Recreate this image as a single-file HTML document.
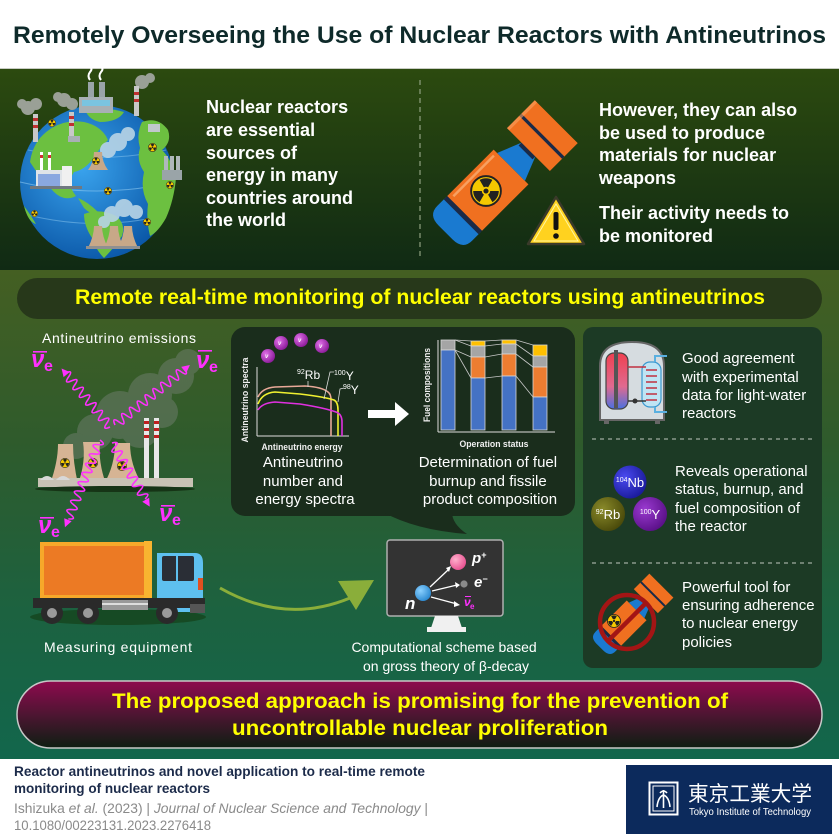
<!DOCTYPE html>
<html><head><meta charset="utf-8">
<style>
html,body{margin:0;padding:0;background:#fff;}
svg{display:block;}
text{font-family:"Liberation Sans",Arial,sans-serif;}
</style></head><body>
<svg width="839" height="839" viewBox="0 0 839 839" xmlns="http://www.w3.org/2000/svg">
<defs>
 <linearGradient id="gTop" x1="0" y1="0" x2="0" y2="1">
  <stop offset="0" stop-color="#2c4a0f"/><stop offset="1" stop-color="#102a14"/>
 </linearGradient>
 <linearGradient id="gMid" x1="0" y1="0" x2="0" y2="1">
  <stop offset="0" stop-color="#445f22"/><stop offset="0.35" stop-color="#2f5b2c"/><stop offset="0.7" stop-color="#1c6240"/><stop offset="1" stop-color="#12664c"/>
 </linearGradient>
 <linearGradient id="gBan" x1="0" y1="0" x2="0" y2="1">
  <stop offset="0" stop-color="#8e0a4e"/><stop offset="0.5" stop-color="#4e1532"/><stop offset="1" stop-color="#0d1e12"/>
 </linearGradient>
 <radialGradient id="gGlobe" cx="0.4" cy="0.4" r="0.65">
  <stop offset="0" stop-color="#3aa4ee"/><stop offset="1" stop-color="#0a56a6"/>
 </radialGradient>
 <radialGradient id="gPur" cx="0.35" cy="0.35" r="0.7">
  <stop offset="0" stop-color="#e070e8"/><stop offset="1" stop-color="#8a1a98"/>
 </radialGradient>
 <radialGradient id="gNb" cx="0.35" cy="0.35" r="0.7">
  <stop offset="0" stop-color="#4a4af0"/><stop offset="1" stop-color="#1a1a9a"/>
 </radialGradient>
 <radialGradient id="gRb" cx="0.35" cy="0.35" r="0.7">
  <stop offset="0" stop-color="#8a8a2a"/><stop offset="1" stop-color="#4a4a0a"/>
 </radialGradient>
 <radialGradient id="gY" cx="0.35" cy="0.35" r="0.7">
  <stop offset="0" stop-color="#9a3ad0"/><stop offset="1" stop-color="#5a1088"/>
 </radialGradient>
 <radialGradient id="gPink" cx="0.35" cy="0.35" r="0.7">
  <stop offset="0" stop-color="#ffb0cc"/><stop offset="1" stop-color="#e85090"/>
 </radialGradient>
 <radialGradient id="gBlue" cx="0.35" cy="0.35" r="0.7">
  <stop offset="0" stop-color="#8ad0ff"/><stop offset="1" stop-color="#2a88d0"/>
 </radialGradient>
 <linearGradient id="gVes" x1="0" y1="0" x2="0" y2="1">
  <stop offset="0" stop-color="#f04050"/><stop offset="0.6" stop-color="#e06a90"/><stop offset="1" stop-color="#4a70e0"/>
 </linearGradient>
 <symbol id="rad" viewBox="-10 -10 20 20">
  <circle r="9.3" fill="#f5c800" stroke="#222" stroke-width="1.2"/>
  <path d="M-1.3,-2.25 L-4,-6.93 A8,8 0 0 1 4,-6.93 L1.3,-2.25 A2.6,2.6 0 0 0 -1.3,-2.25Z M2.6,0 L8,0 A8,8 0 0 1 4,6.93 L1.3,2.25 A2.6,2.6 0 0 0 2.6,0Z M-1.3,2.25 L-4,6.93 A8,8 0 0 1 -8,0 L-2.6,0 A2.6,2.6 0 0 0 -1.3,2.25Z" fill="#222"/>
  <circle r="1.6" fill="#222"/>
 </symbol>
</defs>

<!-- Title -->
<rect x="0" y="0" width="839" height="68" fill="#fff"/>
<text x="13" y="43" font-size="24" font-weight="bold" fill="#0e2a2a" textLength="813" lengthAdjust="spacingAndGlyphs">Remotely Overseeing the Use of Nuclear Reactors with Antineutrinos</text>
<rect x="0" y="68" width="839" height="1" fill="#c8ccc4"/>

<!-- Top panel -->
<rect x="0" y="69" width="839" height="201" fill="url(#gTop)"/>
<line x1="420" y1="80" x2="420" y2="258" stroke="#8fa080" stroke-width="1.2" stroke-dasharray="5,4"/>

<!-- Globe -->
<g>
 <circle cx="97" cy="182" r="77" fill="url(#gGlobe)"/>
 <path d="M20,182 Q97,200 174,182" stroke="#8cc8f0" stroke-width="1" fill="none" opacity="0.6"/>
 <path d="M28,150 Q97,165 166,150" stroke="#8cc8f0" stroke-width="1" fill="none" opacity="0.5"/>
 <path d="M28,215 Q97,232 166,215" stroke="#8cc8f0" stroke-width="1" fill="none" opacity="0.5"/>
 <path d="M40,138 Q58,118 84,122 Q102,126 108,140 Q98,150 92,160 Q84,170 74,172 Q66,184 76,196 Q64,202 54,192 Q40,178 30,162 Q32,148 40,138Z" fill="#6cc040"/>
 <path d="M78,198 Q88,202 98,212 Q92,216 84,208 Z" fill="#6cc040"/>
 <path d="M86,112 Q104,106 124,112 Q118,122 100,122 Q90,120 86,112Z" fill="#6cc040"/>
 <path d="M84,214 Q100,208 116,216 Q126,224 122,236 Q114,248 104,258 Q96,250 92,238 Q84,226 84,214Z" fill="#6cc040"/>
 <path d="M142,122 Q158,116 168,130 Q172,142 162,150 Q172,160 176,178 Q174,200 166,218 Q158,232 150,236 Q146,220 148,204 Q140,190 144,172 Q136,160 140,148 Q136,134 142,122Z" fill="#6cc040"/>
 <path d="M24,206 Q30,214 36,224 Q28,222 24,206Z" fill="#6cc040"/>
 <g fill="#b8d4e6" opacity="0.9">
  <circle cx="108" cy="150" r="8"/><circle cx="118" cy="142" r="9"/><circle cx="128" cy="134" r="7"/>
  <circle cx="112" cy="214" r="8"/><circle cx="124" cy="208" r="9"/><circle cx="136" cy="212" r="7"/><circle cx="104" cy="222" r="6"/>
 </g>
 <rect x="88" y="82" width="6" height="16" fill="#9aa4a8"/><rect x="99" y="82" width="6" height="16" fill="#9aa4a8"/>
 <path d="M90,80 q-3,-4 0,-8 q3,-3 0,-6" stroke="#fff" stroke-width="2" fill="none"/>
 <path d="M101,80 q-3,-4 0,-8 q3,-3 0,-6" stroke="#fff" stroke-width="2" fill="none"/>
 <rect x="79" y="97" width="34" height="16" fill="#a8b0b4"/>
 <rect x="82" y="100" width="28" height="6" fill="#7ac4e0"/>
 <g fill="#9aa096"><circle cx="28" cy="108" r="7"/><circle cx="36" cy="104" r="6"/><circle cx="22" cy="104" r="5"/>
  <circle cx="64" cy="100" r="7"/><circle cx="72" cy="104" r="6"/><circle cx="58" cy="97" r="5"/>
  <circle cx="142" cy="82" r="7"/><circle cx="150" cy="78" r="5"/></g>
 <rect x="33" y="114" width="5" height="28" fill="#c8c8c8"/><rect x="33" y="118" width="5" height="3" fill="#c03030"/><rect x="33" y="125" width="5" height="3" fill="#c03030"/>
 <rect x="69" y="112" width="5" height="30" fill="#c8c8c8"/><rect x="69" y="116" width="5" height="3" fill="#c03030"/><rect x="69" y="123" width="5" height="3" fill="#c03030"/>
 <rect x="134" y="86" width="5" height="30" fill="#c8c8c8"/><rect x="134" y="92" width="5" height="3" fill="#c03030"/><rect x="134" y="99" width="5" height="3" fill="#c03030"/>
 <rect x="68" y="136" width="12" height="6" fill="#a8b0b4"/>
 <rect x="40" y="152" width="3" height="18" fill="#fff"/><rect x="40" y="155" width="3" height="3" fill="#d03030"/><rect x="48" y="152" width="3" height="18" fill="#fff"/><rect x="48" y="155" width="3" height="3" fill="#d03030"/>
 <rect x="36" y="170" width="30" height="18" fill="#e0e4e8"/><rect x="38" y="174" width="22" height="12" fill="#8aa8e0"/>
 <rect x="62" y="166" width="10" height="22" fill="#f0f0f0"/>
 <rect x="30" y="186" width="52" height="3" fill="#707880"/>
 <rect x="164" y="156" width="4" height="14" fill="#b0b8bc"/><rect x="170" y="156" width="4" height="14" fill="#b0b8bc"/><rect x="176" y="156" width="4" height="14" fill="#b0b8bc"/>
 <rect x="162" y="170" width="20" height="10" fill="#9aa4a8"/>
 <rect x="148" y="124" width="12" height="8" fill="#c0c8cc"/>
 <path d="M88,170 Q94,162 94,152 L102,152 Q102,162 108,170Z" fill="#c8a888"/>
 <path d="M88,248 Q94,236 94,226 L102,226 Q102,236 108,248Z" fill="#c8a888"/>
 <path d="M104,248 Q110,236 110,226 L118,226 Q118,236 124,248Z" fill="#c8a888"/>
 <path d="M118,248 Q124,236 124,226 L132,226 Q132,236 138,248Z" fill="#c8a888"/>
 <rect x="86" y="246" width="54" height="3" fill="#909090"/>
 <use href="#rad" x="48" y="119" width="8" height="8"/>
 <use href="#rad" x="148" y="143" width="9" height="9"/>
 <use href="#rad" x="166" y="181" width="8" height="8"/>
 <use href="#rad" x="104" y="187" width="8" height="8"/>
 <use href="#rad" x="143" y="218" width="8" height="8"/>
 <use href="#rad" x="31" y="210" width="7" height="7"/>
 <use href="#rad" x="92" y="157" width="8" height="8"/>
</g>

<text font-size="18" font-weight="bold" fill="#fff">
 <tspan x="206" y="113">Nuclear reactors</tspan>
 <tspan x="206" y="136">are essential</tspan>
 <tspan x="206" y="159">sources of</tspan>
 <tspan x="206" y="181">energy in many</tspan>
 <tspan x="206" y="204">countries around</tspan>
 <tspan x="206" y="226">the world</tspan>
</text>

<!-- Bomb -->
<g transform="translate(449,229) rotate(-45) scale(0.82)">
 <path d="M25,-30 L10,-30 Q-6,-30 -6,-12 L-6,12 Q-6,30 10,30 L25,30 Z" fill="#1a7ad0"/>
 <rect x="21" y="-30" width="6" height="60" fill="#1a2a48"/>
 <rect x="27" y="-30" width="80" height="60" fill="#f07020"/>
 <rect x="32" y="-26" width="70" height="3" fill="#f8a060"/>
 <path d="M107,-24 L137,-12 L137,12 L107,24 Z" fill="#1a7ad0"/>
 <rect x="132" y="-12" width="5" height="24" fill="#1a2a48"/>
 <rect x="137" y="-37" width="48" height="74" fill="#f07020"/>
 <rect x="158" y="-37" width="4" height="74" fill="#1a2a48"/>
 <rect x="137" y="-37" width="48" height="4" fill="#f8a060" opacity="0.6"/>
</g>
<use href="#rad" x="470" y="175" width="32" height="32"/>
<!-- Warning -->
<path d="M556,197 L584,244 L528,244 Z" fill="#ffd21f" stroke="#3a3a2a" stroke-width="2.5" stroke-linejoin="round"/>
<path d="M556,204 L578,241 L534,241 Z" fill="none" stroke="#fff6a0" stroke-width="1"/>
<rect x="553.5" y="212" width="5" height="18" rx="2" fill="#111"/>
<circle cx="556" cy="236" r="2.8" fill="#111"/>

<text font-size="18" font-weight="bold" fill="#fff">
 <tspan x="599" y="116">However, they can also</tspan>
 <tspan x="599" y="139">be used to produce</tspan>
 <tspan x="599" y="161">materials for nuclear</tspan>
 <tspan x="599" y="184">weapons</tspan>
 <tspan x="599" y="219">Their activity needs to</tspan>
 <tspan x="599" y="242">be monitored</tspan>
</text>

<!-- Middle section -->
<rect x="0" y="270" width="839" height="489" fill="url(#gMid)"/>
<rect x="17" y="278" width="805" height="41" rx="20.5" fill="#26361a" opacity="0.95"/>
<text x="420" y="304" text-anchor="middle" font-size="21" font-weight="bold" fill="#ffff00" textLength="690" lengthAdjust="spacingAndGlyphs">Remote real-time monitoring of nuclear reactors using antineutrinos</text>

<!-- Left: emissions -->
<text x="42" y="343" font-size="14" fill="#fff" textLength="154">Antineutrino emissions</text>
<g fill="#6c7c6a" opacity="0.55">
 <circle cx="120" cy="415" r="24"/><circle cx="150" cy="395" r="22"/><circle cx="176" cy="376" r="18"/>
 <circle cx="95" cy="432" r="18"/><circle cx="140" cy="428" r="20"/><circle cx="188" cy="362" r="13"/>
 <circle cx="76" cy="446" r="13"/><circle cx="162" cy="412" r="16"/>
</g>
<path d="M50,484 Q58,462 58,444 L73,444 Q73,462 78,484Z" fill="#d6b494"/>
<path d="M78,484 Q86,462 83,442 L100,442 Q98,462 106,484Z" fill="#d6b494"/>
<path d="M104,484 Q115,465 115,443 L130,443 Q130,465 142,484Z" fill="#d6b494"/>
<rect x="144" y="418" width="5" height="62" fill="#e8e8e8"/>
<rect x="144" y="421" width="5" height="3" fill="#c02020"/><rect x="144" y="428" width="5" height="3" fill="#c02020"/><rect x="144" y="435" width="5" height="3" fill="#c02020"/>
<rect x="154" y="418" width="5" height="62" fill="#e8e8e8"/>
<rect x="154" y="421" width="5" height="3" fill="#c02020"/><rect x="154" y="428" width="5" height="3" fill="#c02020"/><rect x="154" y="435" width="5" height="3" fill="#c02020"/>
<rect x="38" y="478" width="155" height="9" fill="#c8c2b4"/>
<path d="M40,480 q7,-8 14,0 M56,480 q7,-8 14,0" fill="#d8d8d8"/>
<ellipse cx="115" cy="489" rx="80" ry="3" fill="#163416"/>
<use href="#rad" x="60" y="458" width="10" height="10"/>
<use href="#rad" x="88" y="458" width="10" height="10"/>
<use href="#rad" x="117" y="461" width="10" height="10"/>

<g stroke="#ff30ff" stroke-width="1.6" fill="none">
 <g transform="translate(110,427) rotate(-129.6)">
  <path d="M0,0 q2.5,-9 5,0 t5,0 t5,0 t5,0 t5,0 t5,0 t5,0 t5,0 t5,0 t5,0 t5,0 t5,0 t5,0 t5,0"/>
  <polygon points="68,-4 76,0 68,4" fill="#ff30ff" stroke="none"/>
 </g>
 <g transform="translate(115,425) rotate(-38.7)">
  <path d="M0,0 q2.5,-9 5,0 t5,0 t5,0 t5,0 t5,0 t5,0 t5,0 t5,0 t5,0 t5,0 t5,0 t5,0 t5,0 t5,0 t5,0 t5,0 t5,0 t5,0"/>
  <polygon points="88,-4 96,0 88,4" fill="#ff30ff" stroke="none"/>
 </g>
 <g transform="translate(100,440) rotate(111.9)">
  <path d="M0,0 q2.5,-9 5,0 t5,0 t5,0 t5,0 t5,0 t5,0 t5,0 t5,0 t5,0 t5,0 t5,0 t5,0 t5,0 t5,0 t5,0 t5,0 t5,0"/>
  <polygon points="86,-4 94,0 86,4" fill="#ff30ff" stroke="none"/>
 </g>
 <g transform="translate(112,443) rotate(59.3)">
  <path d="M0,0 q2.5,-9 5,0 t5,0 t5,0 t5,0 t5,0 t5,0 t5,0 t5,0 t5,0 t5,0 t5,0 t5,0 t5,0"/>
  <polygon points="66,-4 74,0 66,4" fill="#ff30ff" stroke="none"/>
 </g>
</g>
<g fill="#ff30ff">
 <text x="31" y="367" font-family="Liberation Serif" font-style="italic" font-weight="bold" font-size="24">ν</text>
 <rect x="33" y="351" width="14" height="1.6"/>
 <text x="44" y="371" font-weight="bold" font-size="16">e</text>
 <text x="196" y="368" font-family="Liberation Serif" font-style="italic" font-weight="bold" font-size="24">ν</text>
 <rect x="198" y="350" width="14" height="1.6"/>
 <text x="209" y="372" font-weight="bold" font-size="16">e</text>
 <text x="38" y="533" font-family="Liberation Serif" font-style="italic" font-weight="bold" font-size="24">ν</text>
 <rect x="40" y="517" width="14" height="1.6"/>
 <text x="51" y="537" font-weight="bold" font-size="16">e</text>
 <text x="159" y="521" font-family="Liberation Serif" font-style="italic" font-weight="bold" font-size="24">ν</text>
 <rect x="161" y="505" width="14" height="1.6"/>
 <text x="172" y="525" font-weight="bold" font-size="16">e</text>
</g>

<!-- Truck -->
<ellipse cx="118" cy="617" rx="88" ry="8" fill="#164a24"/>
<rect x="40" y="542" width="112" height="57" fill="#f6a82a"/>
<rect x="44" y="546" width="100" height="49" fill="#ec7a24"/>
<rect x="144" y="541" width="8" height="58" fill="#f8b430"/>
<path d="M157,553 L195,553 Q203,553 203,563 L203,612 L157,612 Z" fill="#5ec0ef"/>
<rect x="162" y="556" width="32" height="25" rx="2" fill="#2a2e36"/>
<rect x="176" y="556" width="2" height="25" fill="#5ec0ef"/>
<rect x="198" y="578" width="5" height="12" fill="#e05020"/>
<rect x="33" y="598" width="172" height="10" fill="#2a2a2a"/>
<rect x="102" y="600" width="46" height="10" fill="#999"/>
<rect x="102" y="603" width="46" height="2" fill="#ddd"/>
<rect x="190" y="604" width="15" height="9" fill="#555"/>
<g fill="#2a2a2a"><circle cx="52" cy="613" r="11"/><circle cx="88" cy="613" r="11"/><circle cx="167" cy="613" r="11"/></g>
<g fill="#9a9a9a"><circle cx="52" cy="613" r="5"/><circle cx="88" cy="613" r="5"/><circle cx="167" cy="613" r="5"/></g>
<text x="44" y="652" font-size="14" fill="#fff" textLength="148">Measuring equipment</text>

<!-- Center dark box -->
<rect x="231" y="327" width="344" height="189" rx="14" fill="#1a2d1c"/>
<path d="M383,512 Q415,530 467,534 Q452,524 452,512 Z" fill="#1a2d1c"/>

<g>
 <circle cx="268" cy="356" r="7" fill="url(#gPur)"/>
 <circle cx="281" cy="343" r="7" fill="url(#gPur)"/>
 <circle cx="301" cy="340" r="7" fill="url(#gPur)"/>
 <circle cx="322" cy="346" r="7" fill="url(#gPur)"/>
 <g fill="#fff" font-size="6" font-family="Liberation Serif" font-style="italic" font-weight="bold">
  <text x="265" y="358">ν</text><text x="278" y="345">ν</text><text x="298" y="342">ν</text><text x="319" y="348">ν</text>
 </g>
 <line x1="257" y1="367" x2="257" y2="436" stroke="#ddd" stroke-width="1"/>
 <line x1="257" y1="436" x2="349" y2="436" stroke="#ddd" stroke-width="1"/>
 <path d="M258,397 Q262,388 275,387 L305,386 Q322,387 328,392 Q331,394 331,400 L331,436" stroke="#e8a898" stroke-width="1.6" fill="none"/>
 <path d="M258,404 Q262,393 275,392 L300,394 Q325,397 334,400 Q338,402 338,410 L338,436" stroke="#f0f030" stroke-width="1.6" fill="none"/>
 <path d="M258,410 Q262,403 275,402 L300,404 Q325,408 336,412 Q342,414 342,422 L342,436" stroke="#e030e0" stroke-width="1.6" fill="none"/>
 <g stroke="#ddd" stroke-width="0.8" fill="none">
  <line x1="308" y1="381" x2="308" y2="387"/>
  <polyline points="334,372 330,372 324,399"/>
  <polyline points="344,388 340,389 338,402"/>
 </g>
 <text x="297" y="379" font-size="12" fill="#fff"><tspan font-size="7" dy="-5">92</tspan><tspan dy="5">Rb</tspan></text>
 <text x="334" y="380" font-size="12" fill="#fff"><tspan font-size="7" dy="-5">100</tspan><tspan dy="5">Y</tspan></text>
 <text x="343" y="394" font-size="12" fill="#fff"><tspan font-size="7" dy="-5">98</tspan><tspan dy="5">Y</tspan></text>
 <text x="248" y="400" transform="rotate(-90 248 400)" text-anchor="middle" font-size="9" font-weight="bold" fill="#f0f0f0" textLength="85" lengthAdjust="spacingAndGlyphs">Antineutrino spectra</text>
 <text x="302" y="450" text-anchor="middle" font-size="9" font-weight="bold" fill="#f0f0f0" textLength="81" lengthAdjust="spacingAndGlyphs">Antineutrino energy</text>
</g>
<text font-size="15" fill="#fff" text-anchor="middle">
 <tspan x="305" y="467">Antineutrino</tspan>
 <tspan x="305" y="486">number and</tspan>
 <tspan x="305" y="504">energy spectra</tspan>
</text>

<rect x="368" y="410" width="28" height="8" fill="#fff"/>
<polygon points="395,402 409,414 395,426" fill="#fff"/>

<g>
 <line x1="438" y1="340" x2="438" y2="432" stroke="#ddd" stroke-width="1"/>
 <line x1="438" y1="432" x2="555" y2="432" stroke="#ddd" stroke-width="1"/>
 <g stroke="#d8d8d8" stroke-width="0.8">
  <rect x="441" y="340" width="14" height="10" fill="#a5a5a5"/>
  <rect x="441" y="350" width="14" height="80" fill="#4472c4"/>
  <rect x="471" y="341" width="14" height="5" fill="#ffc000"/>
  <rect x="471" y="346" width="14" height="11" fill="#a5a5a5"/>
  <rect x="471" y="357" width="14" height="21" fill="#ed7d31"/>
  <rect x="471" y="378" width="14" height="52" fill="#4472c4"/>
  <rect x="502" y="340" width="14" height="4" fill="#ffc000"/>
  <rect x="502" y="344" width="14" height="10" fill="#a5a5a5"/>
  <rect x="502" y="354" width="14" height="22" fill="#ed7d31"/>
  <rect x="502" y="376" width="14" height="54" fill="#4472c4"/>
  <rect x="533" y="345" width="14" height="11" fill="#ffc000"/>
  <rect x="533" y="356" width="14" height="11" fill="#a5a5a5"/>
  <rect x="533" y="367" width="14" height="30" fill="#ed7d31"/>
  <rect x="533" y="397" width="14" height="33" fill="#4472c4"/>
 </g>
 <g stroke="#c8c8c8" stroke-width="0.8">
  <line x1="455" y1="340" x2="471" y2="341"/><line x1="455" y1="340" x2="471" y2="346"/>
  <line x1="455" y1="350" x2="471" y2="357"/><line x1="455" y1="350" x2="471" y2="378"/>
  <line x1="485" y1="341" x2="502" y2="340"/><line x1="485" y1="346" x2="502" y2="344"/>
  <line x1="485" y1="357" x2="502" y2="354"/><line x1="485" y1="378" x2="502" y2="376"/>
  <line x1="516" y1="340" x2="533" y2="345"/><line x1="516" y1="344" x2="533" y2="356"/>
  <line x1="516" y1="354" x2="533" y2="367"/><line x1="516" y1="376" x2="533" y2="397"/>
 </g>
 <text x="430" y="385" transform="rotate(-90 430 385)" text-anchor="middle" font-size="9" font-weight="bold" fill="#f0f0f0" textLength="74" lengthAdjust="spacingAndGlyphs">Fuel compositions</text>
 <text x="494" y="447" text-anchor="middle" font-size="9" font-weight="bold" fill="#f0f0f0" textLength="69" lengthAdjust="spacingAndGlyphs">Operation status</text>
</g>
<text font-size="15" fill="#fff" text-anchor="middle">
 <tspan x="490" y="467">Determination of fuel</tspan>
 <tspan x="490" y="486">burnup and fissile</tspan>
 <tspan x="490" y="504">product composition</tspan>
</text>

<path d="M220,588 Q285,625 350,598" stroke="#8aae3a" stroke-width="3" fill="none"/>
<polygon points="338,581 374,580 356,610" fill="#8aae3a"/>

<rect x="387" y="540" width="116" height="76" rx="3" fill="#333" stroke="#b0b0b0" stroke-width="1.5"/>
<polygon points="435,616 458,616 462,628 431,628" fill="#f0f0f0"/>
<rect x="427" y="627" width="39" height="5" fill="#f0f0f0"/>
<g stroke="#fff" stroke-width="1.3">
 <line x1="430" y1="587" x2="448" y2="570"/><line x1="432" y1="591" x2="457" y2="585"/><line x1="431" y1="597" x2="457" y2="604"/>
</g>
<g fill="#fff">
 <polygon points="451,566 446,568 449,572"/>
 <polygon points="460,585 455,582 456,588"/>
 <polygon points="460,605 454,601 454,607"/>
</g>
<circle cx="458" cy="562" r="8" fill="url(#gPink)"/>
<circle cx="423" cy="593" r="8" fill="url(#gBlue)"/>
<circle cx="464" cy="584" r="3.6" fill="#8a8a8a"/>
<text x="472" y="563" font-family="Liberation Serif" font-style="italic" font-weight="bold" font-size="15" fill="#fff">p<tspan font-size="9" dy="-5">+</tspan></text>
<text x="474" y="587" font-family="Liberation Serif" font-style="italic" font-weight="bold" font-size="15" fill="#fff">e<tspan font-size="9" dy="-5">−</tspan></text>
<text x="464" y="606" font-family="Liberation Serif" font-style="italic" font-weight="bold" font-size="12" fill="#ff30ff">ν</text>
<rect x="465" y="596" width="6" height="1" fill="#ff30ff"/>
<text x="470" y="609" font-weight="bold" font-size="8" fill="#ff30ff">e</text>
<text x="405" y="609" font-family="Liberation Serif" font-style="italic" font-weight="bold" font-size="17" fill="#fff">n</text>
<text font-size="14" fill="#fff" text-anchor="middle">
 <tspan x="446" y="652">Computational scheme based</tspan>
 <tspan x="446" y="671">on gross theory of β-decay</tspan>
</text>

<!-- Right panel -->
<rect x="583" y="327" width="239" height="341" rx="10" fill="#1c3a25"/>
<line x1="592" y1="439" x2="815" y2="439" stroke="#c0c8c0" stroke-width="1" stroke-dasharray="4,4"/>
<line x1="592" y1="563" x2="815" y2="563" stroke="#c0c8c0" stroke-width="1" stroke-dasharray="4,4"/>
<path d="M600,420 L600,366 Q600,342 632,342 Q664,342 664,366 L664,420 Z" fill="#d6dce0" stroke="#666" stroke-width="2"/>
<rect x="604" y="420" width="5" height="4" fill="#666"/><rect x="655" y="420" width="5" height="4" fill="#666"/>
<rect x="606" y="353" width="22" height="56" rx="8" fill="url(#gVes)" stroke="#444" stroke-width="1.2"/>
<rect x="614" y="350" width="4" height="58" fill="#555"/>
<rect x="642" y="362" width="19" height="45" rx="8" fill="#bfe4f4" stroke="#3a98d0" stroke-width="1.2"/>
<path d="M646,370 h11 M646,376 h11 M646,382 h11 M646,388 h11 M646,394 h11 M646,400 h11" stroke="#c03040" stroke-width="1.5"/>
<line x1="628" y1="367" x2="646" y2="367" stroke="#c03040" stroke-width="1.5"/>
<line x1="628" y1="401" x2="646" y2="401" stroke="#333" stroke-width="1.5"/>
<circle cx="635" cy="401" r="2.5" fill="#333"/>
<path d="M655,362 L655,356 L667,356" stroke="#5ab0e0" stroke-width="2" fill="none"/>
<path d="M655,407 L655,412 L667,412" stroke="#5ab0e0" stroke-width="2" fill="none"/>
<text font-size="15" fill="#fff">
 <tspan x="682" y="363">Good agreement</tspan>
 <tspan x="682" y="382">with experimental</tspan>
 <tspan x="682" y="400">data for light-water</tspan>
 <tspan x="682" y="418">reactors</tspan>
</text>
<circle cx="630" cy="482" r="16.5" fill="url(#gNb)"/>
<circle cx="608" cy="514" r="17" fill="url(#gRb)"/>
<circle cx="650" cy="514" r="17" fill="url(#gY)"/>
<text x="630" y="487" text-anchor="middle" font-size="13" fill="#fff"><tspan font-size="7" dy="-5">104</tspan><tspan dy="5">Nb</tspan></text>
<text x="608" y="519" text-anchor="middle" font-size="13" fill="#fff"><tspan font-size="7" dy="-5">92</tspan><tspan dy="5">Rb</tspan></text>
<text x="650" y="519" text-anchor="middle" font-size="13" fill="#fff"><tspan font-size="7" dy="-5">100</tspan><tspan dy="5">Y</tspan></text>
<text font-size="15" fill="#fff">
 <tspan x="675" y="476">Reveals operational</tspan>
 <tspan x="675" y="494">status, burnup, and</tspan>
 <tspan x="675" y="513">fuel composition of</tspan>
 <tspan x="675" y="531">the reactor</tspan>
</text>
<g transform="translate(602,645) rotate(-45)">
 <path d="M12,-14 L5,-14 Q-3,-14 -3,-5 L-3,5 Q-3,14 5,14 L12,14 Z" fill="#1a7ad0"/>
 <rect x="10" y="-14" width="3" height="28" fill="#1a2a48"/>
 <rect x="13" y="-14" width="36" height="28" fill="#f07020"/>
 <path d="M49,-11 L62,-6 L62,6 L49,11 Z" fill="#1a7ad0"/>
 <rect x="62" y="-17" width="22" height="34" fill="#f07020"/>
 <rect x="71" y="-17" width="2" height="34" fill="#1a2a48"/>
</g>
<use href="#rad" x="607" y="614" width="14" height="14"/>
<circle cx="627" cy="622" r="27" fill="none" stroke="#a31515" stroke-width="4.5"/>
<line x1="646" y1="603" x2="608" y2="641" stroke="#a31515" stroke-width="4.5"/>
<text font-size="15" fill="#fff">
 <tspan x="682" y="592">Powerful tool for</tspan>
 <tspan x="682" y="610">ensuring adherence</tspan>
 <tspan x="682" y="628">to nuclear energy</tspan>
 <tspan x="682" y="647">policies</tspan>
</text>

<!-- Bottom banner -->
<rect x="17" y="681" width="805" height="67" rx="33.5" fill="url(#gBan)" stroke="#c8c8c8" stroke-width="1.5"/>
<text x="420" y="708" text-anchor="middle" font-size="21.5" font-weight="bold" fill="#ffff00" textLength="616" lengthAdjust="spacingAndGlyphs">The proposed approach is promising for the prevention of</text>
<text x="420" y="735" text-anchor="middle" font-size="21.5" font-weight="bold" fill="#ffff00" textLength="376" lengthAdjust="spacingAndGlyphs">uncontrollable nuclear proliferation</text>

<!-- Footer -->
<rect x="0" y="759" width="839" height="80" fill="#fff"/>
<text x="14" y="776" font-size="14" font-weight="bold" fill="#1c2b4a" textLength="411" lengthAdjust="spacingAndGlyphs">Reactor antineutrinos and novel application to real-time remote</text>
<text x="14" y="793" font-size="14" font-weight="bold" fill="#1c2b4a" textLength="196" lengthAdjust="spacingAndGlyphs">monitoring of nuclear reactors</text>
<text x="14" y="813" font-size="14" fill="#8a8a8a" textLength="414" lengthAdjust="spacingAndGlyphs">Ishizuka <tspan font-style="italic">et al.</tspan> (2023) | <tspan font-style="italic">Journal of Nuclear Science and Technology</tspan> |</text>
<text x="14" y="830" font-size="14" fill="#8a8a8a" textLength="197" lengthAdjust="spacingAndGlyphs">10.1080/00223131.2023.2276418</text>

<!-- Logo -->
<rect x="626" y="765" width="206" height="69" fill="#0c2a5c"/>
<rect x="649.5" y="782.5" width="28" height="32" fill="none" stroke="#fff" stroke-width="2"/>
<rect x="653" y="786" width="21" height="25" fill="none" stroke="#fff" stroke-width="1"/>
<path d="M663.5,790 L663.5,808 M663.5,795 Q658,797 657,807 M663.5,795 Q669,797 670,807 M660,793 Q663.5,789 667,793" stroke="#fff" stroke-width="1.6" fill="none"/>
<text x="688" y="801" font-family="'Liberation Sans','Noto Sans CJK JP',sans-serif" font-size="21" fill="#fff" textLength="124" lengthAdjust="spacingAndGlyphs">東京工業大学</text>
<text x="689" y="815" font-size="10" fill="#fff" textLength="122" lengthAdjust="spacingAndGlyphs">Tokyo Institute of Technology</text>
</svg>
</body></html>
